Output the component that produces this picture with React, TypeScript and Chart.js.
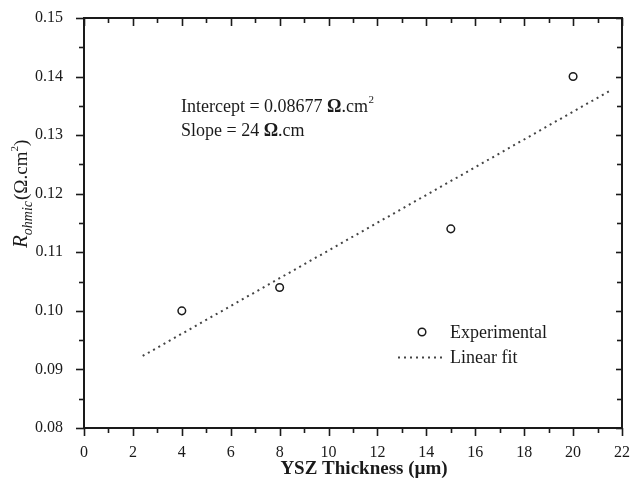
import React, { useEffect, useRef } from "react";
import { Chart, registerables } from "chart.js";

Chart.register(...registerables);

// ---- data ----
const thickness = [4, 8, 15, 20]; // µm
const rOhmic = [0.1, 0.104, 0.114, 0.14]; // Ω.cm²
const fitX = [2.4, 21.6];
const fitY = [0.0923, 0.1378];
const seriesLabels = ["Experimental", "Linear fit"];
const xMinorTicks = [1, 3, 5, 7, 9, 11, 13, 15, 17, 19, 21];
const yMinorTicks = [0.085, 0.095, 0.105, 0.115, 0.125, 0.135, 0.145];
const xTitle = "YSZ Thickness (\u00B5m)";
const annotInterceptPrefix = "Intercept = 0.08677 ";
const annotSlopePrefix = "Slope = 24 ";

const SERIF = "'Liberation Serif', 'Times New Roman', serif";
const INK = "#1a1a1a";

const decorPlugin = {
  id: "decor",
  afterDraw(chart: any) {
    const { ctx, chartArea } = chart;
    const xs = chart.scales.x;
    const ys = chart.scales.y;
    const { left, right, top, bottom } = chartArea;
    ctx.save();
    ctx.strokeStyle = INK;
    ctx.fillStyle = INK;

    // frame
    ctx.lineWidth = 2;
    ctx.strokeRect(left, top, right - left, bottom - top);

    // ticks
    ctx.lineWidth = 1.6;
    const line = (x1: number, y1: number, x2: number, y2: number) => {
      ctx.beginPath();
      ctx.moveTo(x1, y1);
      ctx.lineTo(x2, y2);
      ctx.stroke();
    };
    xs.ticks.forEach((t: any) => {
      const px = Math.round(xs.getPixelForValue(t.value)) + 0.5;
      line(px, bottom, px, bottom + 8);
      line(px, top, px, top + 8);
    });
    xMinorTicks.forEach((v) => {
      const px = Math.round(xs.getPixelForValue(v)) + 0.5;
      line(px, bottom, px, bottom + 5);
      line(px, top, px, top + 5);
    });
    ys.ticks.forEach((t: any) => {
      const py = Math.round(ys.getPixelForValue(t.value)) + 0.5;
      line(left - 8, py, left, py);
      line(right - 6, py, right, py);
    });
    yMinorTicks.forEach((v) => {
      const py = Math.round(ys.getPixelForValue(v)) + 0.5;
      line(left - 5, py, left, py);
      line(right - 5, py, right, py);
    });

    // x title
    ctx.font = `bold 19px ${SERIF}`;
    ctx.textAlign = "center";
    ctx.textBaseline = "alphabetic";
    ctx.fillText(xTitle, 364, 474);

    // y title (rotated), R_ohmic (Ω.cm²)
    ctx.save();
    ctx.translate(27, 248);
    ctx.rotate(-Math.PI / 2);
    ctx.textAlign = "left";
    let cx = 0;
    ctx.font = `italic 21px ${SERIF}`;
    ctx.fillText("R", cx, 0);
    cx += ctx.measureText("R").width;
    ctx.font = `italic 14px ${SERIF}`;
    ctx.fillText("ohmic", cx, 5);
    cx += ctx.measureText("ohmic").width + 1;
    ctx.font = `19px ${SERIF}`;
    ctx.fillText("(\u03A9.cm", cx, 0);
    cx += ctx.measureText("(\u03A9.cm").width;
    ctx.font = `11px ${SERIF}`;
    ctx.fillText("2", cx, -9);
    cx += ctx.measureText("2").width;
    ctx.font = `19px ${SERIF}`;
    ctx.fillText(")", cx, 0);
    ctx.restore();

    // annotation
    const drawUnit = (prefix: string, x: number, y: number, sup: boolean) => {
      ctx.textAlign = "left";
      ctx.font = `18px ${SERIF}`;
      ctx.fillText(prefix, x, y);
      let px = x + ctx.measureText(prefix).width;
      ctx.font = `bold 18px ${SERIF}`;
      ctx.fillText("\u03A9", px, y);
      px += ctx.measureText("\u03A9").width;
      ctx.font = `18px ${SERIF}`;
      ctx.fillText(".cm", px, y);
      px += ctx.measureText(".cm").width;
      if (sup) {
        ctx.font = `11px ${SERIF}`;
        ctx.fillText("2", px + 0.5, y - 9);
      }
    };
    drawUnit(annotInterceptPrefix, 181, 112, true);
    drawUnit(annotSlopePrefix, 181, 136, false);

    // legend
    ctx.font = `18px ${SERIF}`;
    ctx.textAlign = "left";
    ctx.lineWidth = 1.5;
    ctx.beginPath();
    ctx.arc(422, 332, 3.8, 0, Math.PI * 2);
    ctx.stroke();
    ctx.fillText(seriesLabels[0], 450, 338);
    ctx.save();
    ctx.lineWidth = 2;
    ctx.strokeStyle = "#444";
    ctx.setLineDash([2, 4]);
    line(398, 357.5, 446, 357.5);
    ctx.restore();
    ctx.fillText(seriesLabels[1], 450, 363);

    ctx.restore();
  },
};

export default function App() {
  const ref = useRef<HTMLCanvasElement | null>(null);
  useEffect(() => {
    if (!ref.current) return;
    const chart = new Chart(ref.current, {
      type: "scatter",
      data: {
        datasets: [
          {
            label: seriesLabels[0],
            data: thickness.map((x, i) => ({ x, y: rOhmic[i] })),
            showLine: false,
            pointStyle: "circle",
            pointRadius: 3.8,
            pointBorderWidth: 1.5,
            pointBorderColor: INK,
            pointBackgroundColor: "rgba(255,255,255,0)",
          },
          {
            label: seriesLabels[1],
            data: fitX.map((x, i) => ({ x, y: fitY[i] })),
            showLine: true,
            borderColor: "#444",
            borderWidth: 2,
            borderDash: [2, 4],
            pointRadius: 0,
          },
        ],
      },
      options: {
        responsive: false,
        animation: false,
        devicePixelRatio: 1,
        layout: { padding: { left: 0, top: 18, right: 10, bottom: 0 } },
        plugins: { legend: { display: false }, tooltip: { enabled: false } },
        scales: {
          x: {
            type: "linear",
            min: 0,
            max: 22,
            grid: { display: false },
            border: { display: false },
            ticks: {
              stepSize: 2,
              padding: 7,
              color: INK,
              font: { family: SERIF, size: 16 },
            },
            afterFit: (s: any) => {
              s.height = 57;
              s.paddingLeft = 0;
              s.paddingRight = 0;
              s.paddingTop = 0;
              s.paddingBottom = 0;
            },
          },
          y: {
            type: "linear",
            min: 0.08,
            max: 0.15,
            grid: { display: false },
            border: { display: false },
            ticks: {
              stepSize: 0.01,
              padding: 13,
              color: INK,
              font: { family: SERIF, size: 16 },
              callback: (v: any) => Number(v).toFixed(2),
            },
            afterFit: (s: any) => {
              s.width = 84;
              s.paddingLeft = 0;
              s.paddingRight = 0;
              s.paddingTop = 0;
              s.paddingBottom = 0;
            },
          },
        },
      } as any,
      plugins: [decorPlugin],
    });
    return () => chart.destroy();
  }, []);
  return (
    <div style={{ position: "absolute", left: 0, top: 0, width: 632, height: 485, background: "#fff" }}>
      <canvas ref={ref} width={632} height={485} style={{ display: "block" }} />
    </div>
  );
}
